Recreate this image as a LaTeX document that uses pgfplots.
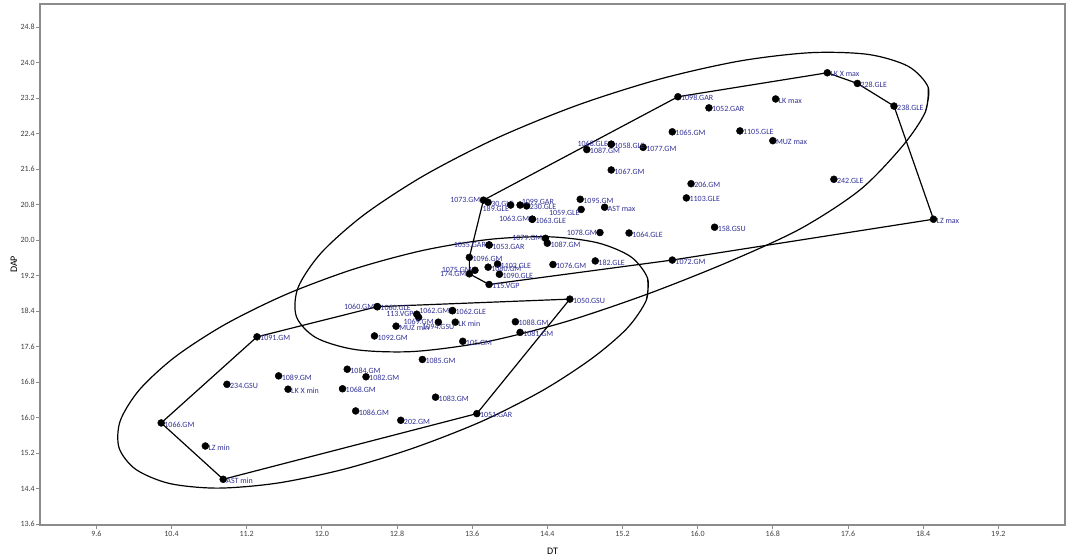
\documentclass[border=0pt]{standalone}
\usepackage{pgfplots}
\pgfplotsset{compat=1.18}
\usepackage{pgfplotstable}
\usepackage{fontspec}
\setmainfont{Carlito}
\definecolor{lbl}{RGB}{48,48,150}
\definecolor{framegray}{RGB}{140,140,140}

% points with label to the right
\pgfplotstableread[col sep=comma,row sep=\\]{
x,y,label\\
17.38,23.77,LK X max\\
17.70,23.53,228.GLE\\
18.09,23.02,238.GLE\\
18.51,20.47,LZ max\\
15.79,23.23,1098.GAR\\
16.12,22.98,1052.GAR\\
16.83,23.18,LK max\\
15.73,22.44,1065.GM\\
16.45,22.46,1105.GLE\\
16.80,22.24,MUZ max\\
15.42,22.09,1077.GM\\
15.93,21.27,206.GM\\
15.88,20.95,1103.GLE\\
17.45,21.37,242.GLE\\
16.18,20.29,158.GSU\\
14.82,22.04,1087.GM\\
15.08,21.58,1067.GM\\
15.08,22.16,1058.GLE\\
13.77,20.85,30.GLE\\
14.18,20.77,230.GLE\\
14.24,20.47,1063.GLE\\
14.75,20.92,1095.GM\\
15.01,20.74,AST max\\
15.27,20.16,1064.GLE\\
14.40,19.93,1087.GM\\
13.78,19.89,1053.GAR\\
13.57,19.61,1096.GM\\
13.87,19.46,1102.GLE\\
13.77,19.39,1080.GM\\
13.89,19.23,1090.GLE\\
13.78,19.00,115.VGP\\
14.46,19.45,1076.GM\\
14.91,19.53,182.GLE\\
15.73,19.55,1072.GM\\
14.64,18.67,1050.GSU\\
12.59,18.50,1060.GLE\\
13.39,18.41,1062.GLE\\
12.79,18.06,MUZ min\\
13.42,18.15,LK min\\
12.56,17.84,1092.GM\\
14.06,18.16,1088.GM\\
14.11,17.92,1081.GM\\
13.50,17.72,105.GM\\
13.07,17.31,1085.GM\\
12.27,17.09,1084.GM\\
12.47,16.92,1082.GM\\
12.22,16.65,1068.GM\\
13.21,16.46,1083.GM\\
12.36,16.15,1086.GM\\
12.84,15.94,202.GM\\
13.65,16.09,1051.GAR\\
11.31,17.82,1091.GM\\
11.54,16.94,1089.GM\\
10.99,16.75,234.GSU\\
11.64,16.64,LK X min\\
10.29,15.88,1066.GM\\
10.76,15.36,LZ min\\
10.95,14.61,AST min\\
}\ptsR

% points with label to the left
\pgfplotstableread[col sep=comma,row sep=\\]{
x,y,label\\
15.08,22.16,1068.GLE\\
13.72,20.90,1073.GM\\
14.24,20.47,1063.GM\\
14.96,20.17,1078.GM\\
14.38,20.04,1079.GM\\
13.78,19.89,1055.GAR\\
13.63,19.32,1075.GM\\
13.57,19.24,174.GM\\
12.59,18.50,1060.GM\\
13.01,18.33,113.VGP\\
13.39,18.41,1062.GM\\
}\ptsL

% label below left
\pgfplotstableread[col sep=comma,row sep=\\]{
x,y,label\\
14.01,20.79,189.GLE\\
14.76,20.69,1059.GLE\\
}\ptsBL

% label above right
\pgfplotstableread[col sep=comma,row sep=\\]{
x,y,label\\
14.11,20.79,1099.GAR\\
}\ptsAR

% label below
\pgfplotstableread[col sep=comma,row sep=\\]{
x,y,label\\
13.03,18.26,1069.GM\\
13.24,18.15,1094.GSU\\
}\ptsB

\begin{document}
\begin{tikzpicture}
\useasboundingbox (-40pt,-32pt) rectangle (1028pt,525pt);
\begin{axis}[
    width=1025pt, height=521pt, scale only axis,
    xmin=9.0, xmax=19.91, ymin=13.58, ymax=25.32,
    xtick={9.6,10.4,11.2,12.0,12.8,13.6,14.4,15.2,16.0,16.8,17.6,18.4,19.2},
    ytick={13.6,14.4,15.2,16.0,16.8,17.6,18.4,19.2,20.0,20.8,21.6,22.4,23.2,24.0,24.8},
    /pgf/number format/fixed,
    /pgf/number format/fixed zerofill,
    /pgf/number format/precision=1,
    /pgf/number format/assume math mode=true,
    tick pos=left, tick align=outside,
    major tick length=4pt,
    axis line style={draw=framegray, line width=1.2pt},
    tick style={draw=framegray, line width=0.8pt},
    tick label style={font=\fontsize{8}{9}\selectfont, text=black!75},
    yticklabel style={inner sep=1pt},
    xticklabel style={inner sep=2pt},
    xlabel={DT}, ylabel={DAP},
    label style={font=\fontsize{8}{9}\selectfont, text=black!75},
    every axis x label/.style={at={(axis description cs:0.5,-0.05)}, anchor=center},
    every axis y label/.style={at={(axis description cs:-0.0254,0.5)}, rotate=90, anchor=center},
    clip=false,
    mark size=3.5pt,
    nodes near coords align={horizontal},
]
% ellipses
\addplot[black, line width=1.2pt, smooth, mark=none] coordinates {
(18.455,23.437) (18.423,22.885) (18.189,22.141) (17.733,21.140) (17.097,20.259)
(16.323,19.504) (15.465,18.783) (14.582,18.152) (13.734,17.701) (12.978,17.490)
(12.366,17.530) (11.940,17.798) (11.729,18.276) (11.747,18.930) (11.993,19.712)
(12.450,20.572) (13.087,21.454) (13.860,22.296) (14.718,23.038) (15.602,23.631)
(16.450,24.036) (17.205,24.223) (17.818,24.183) (18.243,23.914) (18.455,23.437)
(18.423,22.885)
};
\addplot[black, line width=1.2pt, smooth, mark=none] coordinates {
(15.467,19.141) (15.454,18.648) (15.251,18.017) (14.879,17.341) (14.357,16.620)
(13.708,15.921) (12.974,15.313) (12.239,14.839) (11.526,14.524) (10.892,14.411)
(10.379,14.515) (10.020,14.833) (9.842,15.315) (9.854,15.928) (10.059,16.629)
(10.439,17.370) (10.970,18.100) (11.617,18.774) (12.334,19.342) (13.073,19.766)
(13.784,20.016) (14.417,20.074) (14.931,19.941) (15.289,19.624) (15.467,19.141)
(15.454,18.648)
};
% hulls
\addplot[black, line width=1.2pt, mark=none] coordinates {
(15.79,23.23) (17.38,23.77) (17.70,23.53) (18.09,23.02) (18.51,20.47)
(15.73,19.55) (13.78,19.00) (13.57,19.24) (13.57,19.61) (13.72,20.90) (15.79,23.23)
};
\addplot[black, line width=1.2pt, mark=none] coordinates {
(11.31,17.82) (12.59,18.50) (14.64,18.67) (13.65,16.09) (10.95,14.61) (10.29,15.88) (11.31,17.82)
};
% points
\addplot[only marks, mark=*, black, point meta=explicit symbolic, nodes near coords,
    every node near coord/.append style={anchor=west, font=\fontsize{8}{9}\selectfont, text=lbl, inner sep=0.5pt, xshift=2.5pt, yshift=-1.5pt}]
    table[x=x, y=y, meta=label] {\ptsR};
\addplot[only marks, mark=*, black, point meta=explicit symbolic, nodes near coords,
    every node near coord/.append style={anchor=east, font=\fontsize{8}{9}\selectfont, text=lbl, inner sep=0.5pt, xshift=-2.5pt}]
    table[x=x, y=y, meta=label] {\ptsL};
\addplot[only marks, mark=*, black, point meta=explicit symbolic, nodes near coords,
    every node near coord/.append style={anchor=north east, font=\fontsize{8}{9}\selectfont, text=lbl, inner sep=0.5pt, xshift=-1pt}]
    table[x=x, y=y, meta=label] {\ptsBL};
\addplot[only marks, mark=*, black, point meta=explicit symbolic, nodes near coords,
    every node near coord/.append style={anchor=south west, font=\fontsize{8}{9}\selectfont, text=lbl, inner sep=0.5pt, xshift=1pt}]
    table[x=x, y=y, meta=label] {\ptsAR};
\addplot[only marks, mark=*, black, point meta=explicit symbolic, nodes near coords,
    every node near coord/.append style={anchor=north, font=\fontsize{8}{9}\selectfont, text=lbl, inner sep=0.5pt, yshift=-1pt}]
    table[x=x, y=y, meta=label] {\ptsB};
\end{axis}
\end{tikzpicture}
\end{document}
